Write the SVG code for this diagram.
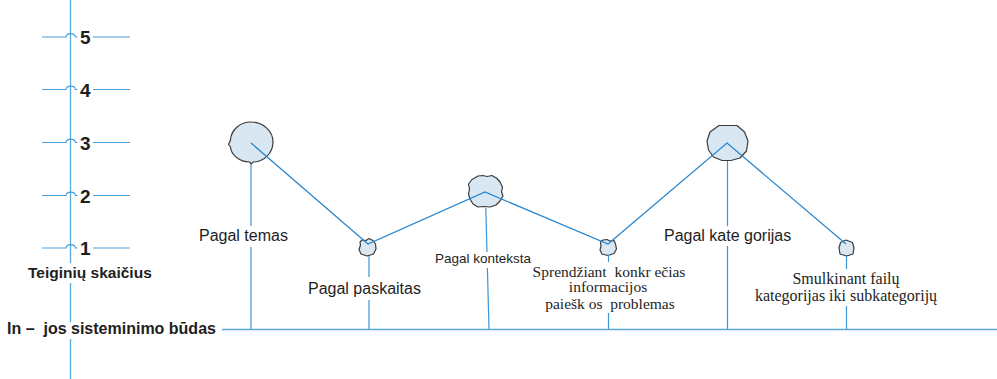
<svg xmlns="http://www.w3.org/2000/svg" width="997" height="379" viewBox="0 0 997 379">
  <style>
    .axis { stroke: #5aa9de; stroke-width: 1.3; fill: none; }
    .tick { stroke: #4a9ed8; stroke-width: 1.2; fill: none; }
    .link { stroke: #2484cf; stroke-width: 1.2; fill: none; }
    .drop { stroke: #3d94d6; stroke-width: 1.2; fill: none; }
    .blob { fill: #d9e7f2; stroke: #3b3b3b; stroke-width: 1.2; stroke-linejoin: round; }
    .num { font-family: "Liberation Sans", Arial, sans-serif; font-weight: bold; font-size: 19px; fill: #1e1e1e; }
    .ax { font-family: "Liberation Sans", Arial, sans-serif; font-weight: bold; font-size: 15.5px; fill: #1e1e1e; }
    .sans { font-family: "Liberation Sans", Arial, sans-serif; font-size: 16px; fill: #1e1e1e; }
    .serif { font-family: "Liberation Serif", "Times New Roman", serif; font-size: 15.5px; fill: #1e1e1e; text-anchor: middle; }
  </style>

  <!-- vertical scale axis, interrupted where the labels cross it -->
  <g id="scale">
    <path class="axis" d="M70.5,0 V263 M70.5,283 V322 M70.5,339 V379"/>
    <path class="tick" d="M42,37 H66 C66.5,32.5 75,32.5 75.5,37 H77.5 M93,37 H130"/>
    <path class="tick" d="M42,89.5 H66 C66.5,85 75,85 75.5,89.5 H77.5 M93,89.5 H130"/>
    <path class="tick" d="M42,142.5 H66 C66.5,138 75,138 75.5,142.5 H77.5 M93,142.5 H130"/>
    <path class="tick" d="M42,195.5 H66 C66.5,191 75,191 75.5,195.5 H77.5 M93,195.5 H130"/>
    <path class="tick" d="M42,248 H66 C66.5,243.5 75,243.5 75.5,248 H77.5 M93,248 H130"/>
    <text class="num" x="80" y="44">5</text>
    <text class="num" x="80" y="96.5">4</text>
    <text class="num" x="80" y="149.5">3</text>
    <text class="num" x="80" y="202.5">2</text>
    <text class="num" x="80" y="255">1</text>
    <text class="ax" x="28" y="278">Teiginių skaičius</text>
  </g>

  <!-- horizontal base axis -->
  <g id="base">
    <path class="axis" d="M222,329.5 H997"/>
    <text class="ax" x="7" y="334" style="font-size:16px" xml:space="preserve">In –  jos sisteminimo būdas</text>
  </g>

  <g id="node-temas">
    <path class="blob" d="M251,122 C263,122 273,131 273,142 C273,153 264,162 253,162 L251.5,164 L249.5,162 C240,162 231,155 230.5,147 L228.5,144.5 L230.5,140 C231,130 240,122 251,122 Z"/>
    <text class="sans" x="199" y="241">Pagal temas</text>
  </g>

  <g id="node-paskaitas">
    <path class="blob" d="M362,240 L366,240.5 L369,238.5 L373,240.5 L375.5,244 L376,249 L373.5,254 L367,256 L361,254 L359,249.5 L360.5,245 L360,242 Z"/>
    <text class="sans" x="308" y="294">Pagal paskaitas</text>
  </g>

  <g id="node-konteksta">
    <path class="blob" d="M478,176 L483,175.5 L487,176.5 L492,175.5 L497,178.5 L500,182 L502.5,187 L501.5,192 L503,196 L500,201 L496,205 L490,207 L484,206.5 L478,207 L473,204 L470,199 L468.5,194 L469.5,189 L468.5,184 L472,179.5 Z"/>
    <text class="sans" x="435" y="263" style="font-size:13.5px">Pagal konteksta</text>
  </g>

  <g id="node-sprendziant">
    <path class="blob" d="M603,240 L607,239.5 L610,241 L614,240.5 L615.5,244 L616.5,249 L614,253.5 L608,255.5 L602,254 L600,250 L601,246 L600.5,242 Z"/>
    <text class="serif" x="609" y="276.5" xml:space="preserve">Sprendžiant  konkr ečias</text>
    <text class="serif" x="608" y="292">informacijos</text>
    <text class="serif" x="610" y="308.5" xml:space="preserve">paiešk os  problemas</text>
  </g>

  <g id="node-kategorijas">
    <path class="blob" d="M719,125.5 L737,125.5 L744.5,132 L748,141 L746.5,151 L740,158 L731,160.5 L722,160.5 L713.5,157 L708.5,150 L707,141 L710,132 Z"/>
    <text class="sans" x="664" y="241">Pagal kate gorijas</text>
  </g>

  <g id="node-smulkinant">
    <path class="blob" d="M846,240 L852.5,242.5 L854,248 L853,254 L846.5,256 L840,254 L839,248 L840.5,242.5 Z"/>
    <text class="serif" x="846" y="284" style="font-size:16px">Smulkinant failų</text>
    <text class="serif" x="846" y="300.5" style="font-size:16px">kategorijas iki subkategorijų</text>
  </g>

  <!-- connectors: zig-zag through the node centres, drawn over the nodes, and drop lines to the base axis -->
  <g id="connectors">
    <polyline class="link" points="251,143 368,244 485,192 608,244 727,143 846,244"/>
    <path class="drop" d="M251,164 V226 M251,247 V329"/>
    <path class="drop" d="M369,256 V277 M369,300 V329"/>
    <path class="drop" d="M485.8,208 L487,252 M487.4,268 L489,329"/>
    <path class="drop" d="M608.5,255 V262 M608.5,313 V329"/>
    <path class="drop" d="M727.5,161 V226 M727.5,246 V329"/>
    <path class="drop" d="M846.5,256 V269 M846.5,306 V329"/>
  </g>
</svg>
